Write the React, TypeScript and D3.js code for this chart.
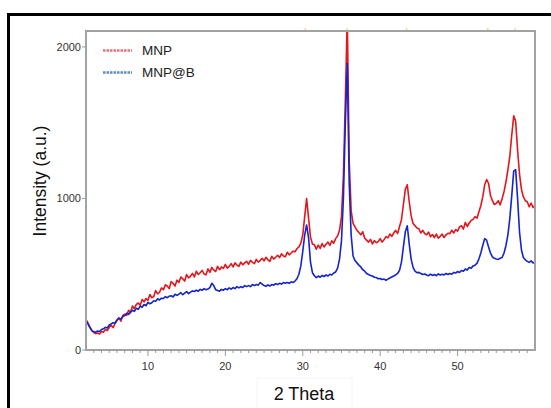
import React from "react";
import * as d3 from "d3";

// 2θ sampling: start 2°, step 0.25°, end 60°
const thetaStart = 2;
const thetaStep = 0.25;

const mnp: number[] = [
  200, 178, 152, 130,
  115, 108, 112, 106,
  122, 118, 135, 128,
  150, 162, 148, 175,
  195, 212, 190, 228,
  236, 228, 262, 248,
  290, 272, 301, 310,
  296, 334, 318, 340,
  328, 366, 345, 352,
  392, 370, 381, 410,
  398, 430, 422, 405,
  452, 440, 422, 461,
  446, 482, 470, 455,
  498, 476, 488, 505,
  482, 520, 498, 510,
  525, 502, 496, 535,
  512, 545, 528, 518,
  552, 530, 548, 538,
  565, 540, 552, 570,
  548, 575, 560, 552,
  580, 562, 575, 585,
  566, 592, 578, 570,
  598, 580, 590, 605,
  588, 612, 595, 585,
  618, 600, 612, 625,
  610, 635, 620, 615,
  645, 628, 640, 652,
  648, 668, 680, 705,
  760, 880, 1000, 870,
  745, 700, 695, 665,
  692, 670, 702, 680,
  698, 712, 690, 720,
  705, 735, 752, 790,
  880, 1150, 1650, 2200,
  1250, 920, 835, 812,
  790, 775, 760, 780,
  738, 725, 712, 730,
  700, 722, 708, 715,
  735, 712, 728, 748,
  740, 765, 750, 772,
  790, 768, 815, 860,
  960, 1060, 1090, 980,
  885, 835, 820, 805,
  800, 772, 790, 768,
  760, 778, 748, 762,
  742, 765, 738, 750,
  765, 742, 760, 770,
  768, 790, 772, 795,
  785, 812, 820, 798,
  842, 815, 838, 855,
  862, 880, 870, 910,
  952, 1010, 1090, 1125,
  1100, 1020, 985, 960,
  968, 985, 958, 998,
  1045, 1110, 1190, 1280,
  1420, 1545, 1510, 1320,
  1160, 1060, 1010, 985,
  978, 945, 970, 940,
  955,
];

const mnpB: number[] = [
  195, 172, 148, 128,
  120, 118, 125, 122,
  135, 140, 150, 145,
  165, 172, 180, 178,
  198, 210, 205, 220,
  228, 242, 235, 250,
  262, 255, 275, 268,
  290, 282, 300, 292,
  315, 305, 312, 325,
  322, 338, 330, 342,
  340, 352, 345, 355,
  358, 350, 368, 360,
  368, 378, 365, 375,
  385, 372, 382, 390,
  386, 395, 388, 400,
  394, 405, 398, 402,
  412, 440, 425, 398,
  392, 388, 400, 395,
  405, 398, 410, 402,
  412, 405, 418, 410,
  418, 412, 425, 418,
  425, 418, 432, 425,
  432, 428, 445, 435,
  425, 420, 430, 422,
  432, 428, 438, 432,
  440, 435, 445, 440,
  445, 440, 450, 445,
  455, 470, 500, 555,
  650, 760, 825, 740,
  580, 510, 490, 478,
  488, 480, 492, 485,
  495, 488, 500, 495,
  508, 515, 540, 600,
  720, 1000, 1500, 1890,
  1100, 760, 620, 590,
  575, 560, 548, 530,
  520, 505, 498, 492,
  488, 480, 478, 470,
  472, 465, 468, 460,
  468, 475, 482, 488,
  495, 505, 525, 580,
  680, 780, 820, 700,
  600, 545, 520, 510,
  512, 505, 498, 502,
  495, 490, 500, 492,
  498, 490, 502, 495,
  500, 495, 505, 498,
  505, 500, 512, 508,
  518, 512, 525, 520,
  535, 528, 545, 540,
  555, 560, 572, 600,
  640, 690, 735, 725,
  680, 640, 615, 605,
  600, 598, 605, 610,
  640, 690, 760, 870,
  1020, 1180, 1190, 1000,
  780, 660, 610, 595,
  585, 578, 588, 575,
  578,
];

const seriesNames = ["MNP", "MNP@B"];
const seriesColors = ["#e3161c", "#1424cc"];
const legendColors = ["#e8707a", "#5b8ccc"];
const xTicks = [10, 20, 30, 40, 50];
const yTicks = [0, 1000, 2000];
const peakMarkers = [30.35, 35.75, 43.4, 53.9, 57.45];
const xTitle = "2 Theta";
const yTitle = "Intensity (a.u.)";

export default function App() {
  const left = 86, right = 535, top = 31, bottom = 350;
  const x = d3.scaleLinear().domain([2, 60]).range([left, right]);
  const y = d3.scaleLinear().domain([0, 2105]).range([bottom, top]);
  const line = d3
    .line<number>()
    .x((_, i) => x(thetaStart + i * thetaStep))
    .y((d) => y(d));
  const minor = d3.range(3, 60, 1).filter((v) => v % 10 !== 0);
  const font = "'Liberation Sans', Arial, sans-serif";
  const series = [mnp, mnpB];

  return (
    <div style={{ position: "fixed", left: 0, top: 0 }}>
      <svg width={551} height={408} style={{ display: "block", background: "#fff" }}>
        <defs>
          <clipPath id="plotclip">
            <rect x={left} y={top} width={right - left} height={bottom - top} />
          </clipPath>
        </defs>
        {/* outer frame */}
        <rect x={8.5} y={14.5} width={600} height={500} fill="none" stroke="#000" strokeWidth={3} />
        {/* faint title box */}
        <rect x={257} y={378} width={95} height={40} fill="none" stroke="#f6f6f6" strokeWidth={1} />
        {/* peak markers on top */}
        {peakMarkers.map((p, i) => (
          <line key={"pm" + i} x1={x(p)} x2={x(p)} y1={top - 3} y2={top - 1} stroke="#f3d2a0" strokeWidth={1.5} />
        ))}
        {/* data */}
        <g clipPath="url(#plotclip)">
          {series.map((s, k) => (
            <path
              key={"s" + k}
              d={line(s) || ""}
              fill="none"
              stroke={seriesColors[k]}
              strokeWidth={1.6}
              strokeLinejoin="round"
            />
          ))}
        </g>
        {/* axes frame */}
        <rect x={left} y={top} width={right - left} height={bottom - top} fill="none" stroke="#a2a2a2" strokeWidth={2} />
        {/* x ticks */}
        {minor.map((v) => (
          <line key={"mn" + v} x1={x(v)} x2={x(v)} y1={bottom} y2={bottom + 3} stroke="#9a9a9a" strokeWidth={1} />
        ))}
        {xTicks.map((v) => (
          <g key={"xt" + v}>
            <line x1={x(v)} x2={x(v)} y1={bottom} y2={bottom + 6} stroke="#9a9a9a" strokeWidth={1} />
            <text x={x(v)} y={370} textAnchor="middle" fontFamily={font} fontSize={11} fill="#333">
              {v}
            </text>
          </g>
        ))}
        {/* y ticks */}
        {yTicks.map((v) => (
          <g key={"yt" + v}>
            <line x1={left - 4} x2={left} y1={y(v)} y2={y(v)} stroke="#9a9a9a" strokeWidth={1} />
            <text x={left - 5} y={y(v) + 4} textAnchor="end" fontFamily={font} fontSize={11} fill="#333">
              {v}
            </text>
          </g>
        ))}
        {/* titles */}
        <text x={304} y={400} textAnchor="middle" fontFamily={font} fontSize={18} fill="#111">
          {xTitle}
        </text>
        <text
          transform={`translate(46,${181}) rotate(-90)`}
          textAnchor="middle"
          fontFamily={font}
          fontSize={17.5}
          fill="#111"
        >
          {yTitle}
        </text>
        {/* legend */}
        {seriesNames.map((n, i) => (
          <g key={"lg" + i}>
            <line
              x1={103}
              x2={132}
              y1={50.5 + i * 22}
              y2={50.5 + i * 22}
              stroke={legendColors[i]}
              strokeWidth={2.5}
              strokeDasharray="2.5,1"
            />
            <text x={142} y={55 + i * 22} fontFamily={font} fontSize={13.5} fill="#222">
              {n}
            </text>
          </g>
        ))}
      </svg>
    </div>
  );
}
